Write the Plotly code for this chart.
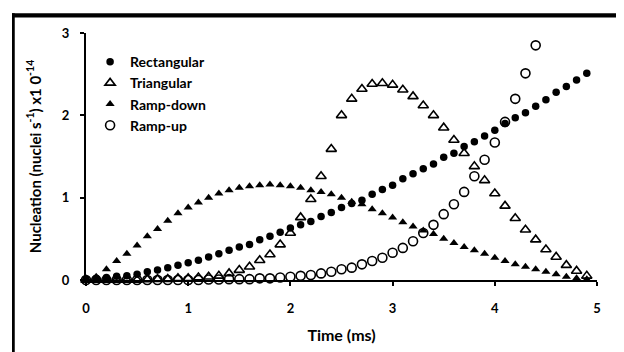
import plotly.graph_objects as go

time_ms = [0.0, 0.1, 0.2, 0.3, 0.4, 0.5, 0.6, 0.7, 0.8, 0.9,
           1.0, 1.1, 1.2, 1.3, 1.4, 1.5, 1.6, 1.7, 1.8, 1.9,
           2.0, 2.1, 2.2, 2.3, 2.4, 2.5, 2.6, 2.7, 2.8, 2.9,
           3.0, 3.1, 3.2, 3.3, 3.4, 3.5, 3.6, 3.7, 3.8, 3.9,
           4.0, 4.1, 4.2, 4.3, 4.4, 4.5, 4.6, 4.7, 4.8, 4.9]

rectangular = [0.01, 0.02, 0.03, 0.045, 0.05, 0.07, 0.10, 0.12, 0.15, 0.18,
               0.21, 0.24, 0.28, 0.32, 0.36, 0.40, 0.43, 0.49, 0.53, 0.58,
               0.63, 0.67, 0.71, 0.77, 0.82, 0.88, 0.93, 0.97, 1.04, 1.10,
               1.15, 1.23, 1.29, 1.35, 1.41, 1.49, 1.54, 1.62, 1.68, 1.75,
               1.82, 1.90, 1.97, 2.03, 2.11, 2.19, 2.28, 2.35, 2.43, 2.51]

triangular = [0.0, 0.0, 0.0, 0.0, 0.0, 0.0, 0.005, 0.01, 0.01, 0.02,
              0.02, 0.03, 0.04, 0.05, 0.08, 0.12, 0.16, 0.24, 0.31, 0.43,
              0.57, 0.76, 0.98, 1.26, 1.59, 2.00, 2.20, 2.32, 2.38, 2.39,
              2.37, 2.31, 2.23, 2.12, 2.00, 1.85, 1.70, 1.54, 1.38, 1.21,
              1.05, 0.90, 0.75, 0.61, 0.49, 0.37, 0.28, 0.18, 0.11, 0.05]

ramp_down = [0.0, 0.04, 0.13, 0.23, 0.32, 0.42, 0.53, 0.62, 0.72, 0.81,
             0.88, 0.94, 1.00, 1.05, 1.09, 1.12, 1.14, 1.15, 1.16, 1.15,
             1.14, 1.12, 1.09, 1.07, 1.04, 1.00, 0.95, 0.92, 0.86, 0.81,
             0.76, 0.70, 0.65, 0.60, 0.56, 0.50, 0.45, 0.40, 0.36, 0.32,
             0.27, 0.23, 0.19, 0.16, 0.13, 0.10, 0.07, 0.04, 0.02, 0.01]

ramp_up = [0.0, 0.0, 0.0, 0.0, 0.0, 0.0, 0.0, 0.0, 0.0, 0.0,
           0.0, 0.0, 0.005, 0.005, 0.01, 0.01, 0.01, 0.02, 0.02, 0.03,
           0.04, 0.05, 0.06, 0.08, 0.10, 0.13, 0.15, 0.19, 0.23, 0.27,
           0.33, 0.39, 0.47, 0.57, 0.67, 0.80, 0.92, 1.07, 1.26, 1.46,
           1.67, 1.92, 2.20, 2.51, 2.85]

x_ticks = [0, 1, 2, 3, 4, 5]
y_ticks = [0, 1, 2, 3]

FONT = "Lato"

fig = go.Figure()
fig.add_trace(go.Scatter(x=time_ms, y=rectangular, mode="markers", name="Rectangular",
                         marker=dict(symbol="circle", size=7.5, color="black"), cliponaxis=False))
fig.add_trace(go.Scatter(x=time_ms, y=triangular, mode="markers", name="Triangular",
                         marker=dict(symbol="triangle-up-open", size=9, color="black",
                                     line=dict(width=1.6, color="black")), cliponaxis=False))
fig.add_trace(go.Scatter(x=time_ms, y=ramp_down, mode="markers", name="Ramp-down",
                         marker=dict(symbol="triangle-up", size=8, color="black"), cliponaxis=False))
fig.add_trace(go.Scatter(x=time_ms[:len(ramp_up)], y=ramp_up, mode="markers", name="Ramp-up",
                         marker=dict(symbol="circle-open", size=9, color="black",
                                     line=dict(width=1.6, color="black")), cliponaxis=False))

axis_font = dict(family=FONT, size=13, color="black", weight="bold")

# The page body keeps its default 8px margin; the paper area starts at the frame's
# top-left corner and the plot area is placed inside it with axis domains.
fig.update_layout(
    width=616, height=344,
    margin=dict(l=4, r=0, t=4, b=0, autoexpand=False),
    paper_bgcolor="white", plot_bgcolor="white",
    font=dict(family=FONT, color="black"),
    showlegend=True,
    legend=dict(x=0.1276, y=0.8997, xanchor="left", yanchor="top",
                font=dict(family=FONT, size=14, color="black", weight="bold"),
                bgcolor="rgba(0,0,0,0)", itemwidth=30, tracegroupgap=0),
    xaxis=dict(domain=[0.1209, 0.9559], range=[0, 5], automargin=False,
               tickvals=x_ticks, ticktext=[str(v) for v in x_ticks],
               showline=True, linecolor="black", linewidth=2,
               ticks="outside", ticklen=4, tickwidth=2, tickcolor="black",
               showgrid=False, zeroline=False, tickfont=axis_font,
               ticklabelstandoff=11,
               title=dict(text="Time (ms)", font=dict(family=FONT, size=16, color="black", weight="bold"),
                          standoff=15)),
    yaxis=dict(domain=[0.2118, 0.9382], range=[0, 3], automargin=False,
               tickvals=y_ticks, ticktext=[str(v) for v in y_ticks],
               showline=True, linecolor="black", linewidth=2,
               ticks="outside", ticklen=4, tickwidth=2, tickcolor="black",
               showgrid=False, zeroline=False, tickfont=axis_font,
               ticklabelstandoff=8,
               title=dict(text="Nucleation (nuclei s<sup>-1</sup>) x1 0<sup>-14</sup>",
                          font=dict(family=FONT, size=15, color="black", weight="bold"),
                          standoff=17)),
    shapes=[
        dict(type="rect", xref="paper", yref="paper", layer="above",
             x0=0.0, x1=1.0, y0=0.9835, y1=0.996,
             fillcolor="black", line=dict(width=0)),
        dict(type="rect", xref="paper", yref="paper", layer="above",
             x0=0.0, x1=0.0045, y0=0.0, y1=0.996,
             fillcolor="black", line=dict(width=0)),
    ],
)

fig.write_html("out.html", config={"displayModeBar": False})
